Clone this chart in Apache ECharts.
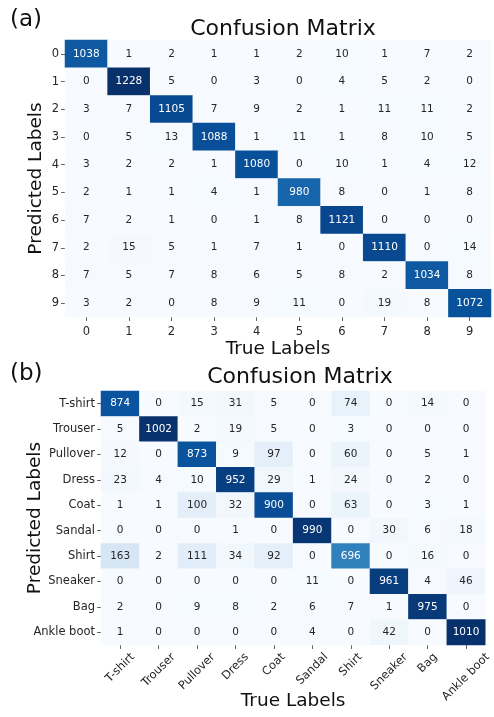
<!DOCTYPE html>
<html>
<head>
<meta charset="utf-8">
<script src="https://cdn.jsdelivr.net/npm/echarts@6/dist/echarts.min.js"></script>
<style>
  html, body { margin: 0; padding: 0; background: #fff; }
  #chart { width: 494px; height: 717px; }
</style>
</head>
<body>
<div id="chart"></div>
<script>
// Panel (a): digit classes
const digitLabels = ['0', '1', '2', '3', '4', '5', '6', '7', '8', '9'];
const digitMatrix = [
  [1038, 1, 2, 1, 1, 2, 10, 1, 7, 2],
  [0, 1228, 5, 0, 3, 0, 4, 5, 2, 0],
  [3, 7, 1105, 7, 9, 2, 1, 11, 11, 2],
  [0, 5, 13, 1088, 1, 11, 1, 8, 10, 5],
  [3, 2, 2, 1, 1080, 0, 10, 1, 4, 12],
  [2, 1, 1, 4, 1, 980, 8, 0, 1, 8],
  [7, 2, 1, 0, 1, 8, 1121, 0, 0, 0],
  [2, 15, 5, 1, 7, 1, 0, 1110, 0, 14],
  [7, 5, 7, 8, 6, 5, 8, 2, 1034, 8],
  [3, 2, 0, 8, 9, 11, 0, 19, 8, 1072]
];

// Panel (b): clothing classes
const fashionLabels = ['T-shirt', 'Trouser', 'Pullover', 'Dress', 'Coat', 'Sandal', 'Shirt', 'Sneaker', 'Bag', 'Ankle boot'];
const fashionMatrix = [
  [874, 0, 15, 31, 5, 0, 74, 0, 14, 0],
  [5, 1002, 2, 19, 5, 0, 3, 0, 0, 0],
  [12, 0, 873, 9, 97, 0, 60, 0, 5, 1],
  [23, 4, 10, 952, 29, 1, 24, 0, 2, 0],
  [1, 1, 100, 32, 900, 0, 63, 0, 3, 1],
  [0, 0, 0, 1, 0, 990, 0, 30, 6, 18],
  [163, 2, 111, 34, 92, 0, 696, 0, 16, 0],
  [0, 0, 0, 0, 0, 11, 0, 961, 4, 46],
  [2, 0, 9, 8, 2, 6, 7, 1, 975, 0],
  [1, 0, 0, 0, 0, 4, 0, 42, 0, 1010]
];

// matplotlib "Blues" colour ramp
const blues = ['#f7fbff', '#deebf7', '#c6dbef', '#9ecae1', '#6baed6', '#4292c6', '#2171b5', '#08519c', '#08306b'];
const FONT = 'DejaVu Sans';
const TICK_FONT_SIZE = 11.5;

function hexToRgb(h) {
  return [parseInt(h.slice(1, 3), 16), parseInt(h.slice(3, 5), 16), parseInt(h.slice(5, 7), 16)];
}
function rampColor(t) {
  t = Math.max(0, Math.min(1, t));
  const p = t * (blues.length - 1);
  const i = Math.min(Math.floor(p), blues.length - 2);
  const f = p - i;
  const a = hexToRgb(blues[i]), b = hexToRgb(blues[i + 1]);
  return a.map((v, k) => v + (b[k] - v) * f);
}
function luminance(rgb) {
  const c = rgb.map(v => {
    v /= 255;
    return v <= 0.03928 ? v / 12.92 : Math.pow((v + 0.055) / 1.055, 2.4);
  });
  return 0.2126 * c[0] + 0.7152 * c[1] + 0.0722 * c[2];
}

// Turn a matrix into heatmap items [trueIdx, predIdx, value] with readable text colour
function buildCells(matrix) {
  let lo = Infinity, hi = -Infinity;
  matrix.forEach(r => r.forEach(v => { lo = Math.min(lo, v); hi = Math.max(hi, v); }));
  const items = [];
  matrix.forEach((row, r) => {
    row.forEach((v, c) => {
      const lum = luminance(rampColor((v - lo) / (hi - lo)));
      items.push({
        value: [c, r, v],
        label: { color: lum > 0.408 ? '#262626' : '#ffffff' }
      });
    });
  });
  return { items, lo, hi };
}

const cellsA = buildCells(digitMatrix);
const cellsB = buildCells(fashionMatrix);

// Rotated tick labels centred under their ticks: pad each label's box so the
// visible text sits centred on the tick with its rotated top edge aligned.
const measureCtx = document.createElement('canvas').getContext('2d');
measureCtx.font = TICK_FONT_SIZE + 'px "' + FONT + '"';
const rotatedRich = {};
fashionLabels.forEach((name, i) => {
  const w = measureCtx.measureText(name).width;
  const h = 12;
  const p = (w + h) / 2;
  rotatedRich['r' + i] = {
    padding: [p, p, 0, 0],
    color: '#262626', fontFamily: FONT, fontSize: TICK_FONT_SIZE
  };
});

const tickStyle = { show: true, alignWithLabel: true, length: 4, lineStyle: { color: '#666', width: 1 } };
const labelBase = { color: '#262626', fontFamily: FONT, fontSize: TICK_FONT_SIZE, interval: 0 };
const axisNameStyle = { color: '#111', fontFamily: FONT, fontSize: 18.5 };

const option = {
  backgroundColor: '#ffffff',
  animation: false,
  title: [
    { text: '(a)', left: 5, top: 4, textStyle: { fontFamily: FONT, fontSize: 23, fontWeight: 'normal', color: '#111' } },
    { text: 'Confusion Matrix', left: 278, top: 13, textAlign: 'center', textStyle: { fontFamily: FONT, fontSize: 22, fontWeight: 'normal', color: '#111' } },
    { text: '(b)', left: 5, top: 358, textStyle: { fontFamily: FONT, fontSize: 23, fontWeight: 'normal', color: '#111' } },
    { text: 'Confusion Matrix', left: 295, top: 361, textAlign: 'center', textStyle: { fontFamily: FONT, fontSize: 22, fontWeight: 'normal', color: '#111' } }
  ],
  grid: [
    { left: 65, right: 3, top: 40, height: 277 },
    { left: 101, right: 5, top: 391, height: 254 }
  ],
  xAxis: [
    {
      gridIndex: 0, type: 'category', data: digitLabels, position: 'bottom',
      axisLine: { show: false }, axisTick: tickStyle, splitArea: { show: false },
      axisLabel: Object.assign({ margin: 9 }, labelBase),
      name: 'True Labels', nameLocation: 'middle', nameGap: 23, nameMoveOverlap: false,
      nameTextStyle: axisNameStyle
    },
    {
      gridIndex: 1, type: 'category', data: fashionLabels, position: 'bottom',
      axisLine: { show: false }, axisTick: tickStyle, splitArea: { show: false },
      axisLabel: Object.assign({}, labelBase, {
        margin: 6, rotate: 45, align: 'center', verticalAlign: 'middle',
        formatter: (value, index) => '{r' + index + '|' + value + '}',
        rich: rotatedRich
      }),
      name: 'True Labels', nameLocation: 'middle', nameGap: 47, nameMoveOverlap: false,
      nameTextStyle: axisNameStyle
    }
  ],
  yAxis: [
    {
      gridIndex: 0, type: 'category', data: digitLabels, inverse: true,
      axisLine: { show: false }, axisTick: tickStyle, splitArea: { show: false },
      axisLabel: Object.assign({ margin: 6 }, labelBase),
      name: 'Predicted Labels', nameLocation: 'middle', nameRotate: 90, nameGap: 19, nameMoveOverlap: false,
      nameTextStyle: axisNameStyle
    },
    {
      gridIndex: 1, type: 'category', data: fashionLabels, inverse: true,
      axisLine: { show: false }, axisTick: tickStyle, splitArea: { show: false },
      axisLabel: Object.assign({ margin: 6 }, labelBase),
      name: 'Predicted Labels', nameLocation: 'middle', nameRotate: 90, nameGap: 56, nameMoveOverlap: false,
      nameTextStyle: axisNameStyle
    }
  ],
  visualMap: [
    { show: false, seriesIndex: 0, min: cellsA.lo, max: cellsA.hi, inRange: { color: blues } },
    { show: false, seriesIndex: 1, min: cellsB.lo, max: cellsB.hi, inRange: { color: blues } }
  ],
  series: [
    {
      type: 'heatmap', xAxisIndex: 0, yAxisIndex: 0, data: cellsA.items,
      label: { show: true, fontFamily: FONT, fontSize: 10.5 },
      itemStyle: { borderWidth: 0 }, emphasis: { disabled: true }
    },
    {
      type: 'heatmap', xAxisIndex: 1, yAxisIndex: 1, data: cellsB.items,
      label: { show: true, fontFamily: FONT, fontSize: 10.5 },
      itemStyle: { borderWidth: 0 }, emphasis: { disabled: true }
    }
  ]
};

echarts.init(document.getElementById('chart'), null, { renderer: 'canvas' }).setOption(option);
</script>
</body>
</html>
